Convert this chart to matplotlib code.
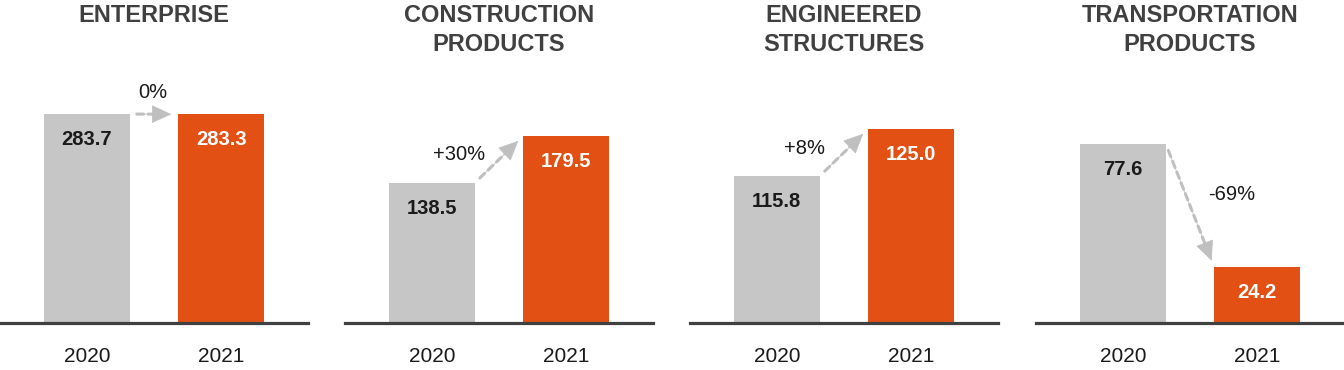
import matplotlib
matplotlib.use("Agg")
import matplotlib.pyplot as plt

plt.rcParams['font.family'] = ['Liberation Sans', 'DejaVu Sans']

# data
titles = ["ENTERPRISE", "CONSTRUCTION\nPRODUCTS", "ENGINEERED\nSTRUCTURES", "TRANSPORTATION\nPRODUCTS"]
years = ["2020", "2021"]
values_2020 = [283.7, 138.5, 115.8, 77.6]
values_2021 = [283.3, 179.5, 125.0, 24.2]
changes = ["0%", "+30%", "+8%", "-69%"]

# layout per panel (the source chart is not drawn to one scale, so each
# panel gets its own value range)
y_lims = [(0, 357), (16, 246), (87, 138.5), (0, 114)]
pct_pos = [(0.497, 0.878), (0.370, 0.639), (0.373, 0.665), (0.636, 0.487)]
panel_left = [0, 345, 690, 1036]

grey = '#C5C6C5'
orange = '#E35013'
dark = '#404040'
arrow_col = '#BFBFBF'

W, H = 1344, 370
fig = plt.figure(figsize=(W / 100, H / 100), dpi=100)

for i in range(4):
    ax = fig.add_axes([panel_left[i] / W, 47 / H, 308 / W, 263 / H])
    v = [values_2020[i], values_2021[i]]
    ax.bar([0, 1], v, width=0.64, color=[grey, orange], zorder=2)
    ax.set_xlim(-0.645, 1.645)
    ax.set_ylim(*y_lims[i])

    for s in ['left', 'right', 'top']:
        ax.spines[s].set_visible(False)
    ax.spines['bottom'].set_color(dark)
    ax.spines['bottom'].set_linewidth(2.3)
    ax.spines['bottom'].set_zorder(3)
    ax.set_yticks([])
    ax.set_xticks([0, 1])
    ax.set_xticklabels(years, fontsize=15, color='#1a1a1a')
    ax.tick_params(axis='x', length=0, pad=17)

    # value labels inside bars
    for x, val, c in zip([0, 1], v, ['#1a1a1a', 'white']):
        ax.annotate("%.1f" % val, xy=(x, val), xytext=(0, -18.5), textcoords='offset points',
                    ha='center', va='center', fontsize=14.5, fontweight='bold', color=c, zorder=4)

    # dashed change arrow between bar tops: dashed shaft + solid head
    ax.annotate('', xy=(0.68, v[1]), xytext=(0.32, v[0]),
                arrowprops=dict(arrowstyle='-', color=arrow_col, lw=2.2, ls=(0, (2.2, 1.6)),
                                shrinkA=5, shrinkB=15), zorder=3)
    ax.annotate('', xy=(0.68, v[1]), xytext=(0.32, v[0]),
                arrowprops=dict(arrowstyle='-|>,head_length=0.65,head_width=0.3', mutation_scale=20,
                                color=arrow_col, lw=0.5, shrinkA=5, shrinkB=5), zorder=3)
    ax.text(pct_pos[i][0], pct_pos[i][1], changes[i], transform=ax.transAxes,
            ha='center', va='center', fontsize=14.5, color='#1a1a1a')

    ax.text(0.5, 1.212, titles[i], transform=ax.transAxes, ha='center', va='top',
            fontsize=17, fontweight='bold', color=dark, linespacing=1.32)

fig.savefig('out.png', dpi=100)
